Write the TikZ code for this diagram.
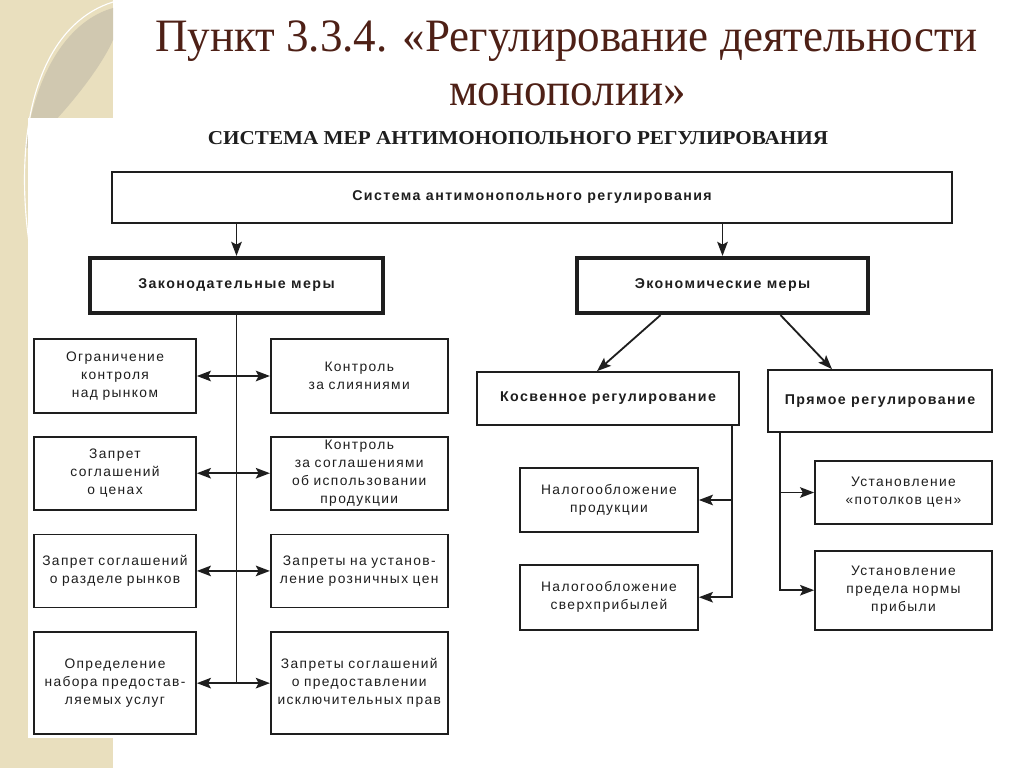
\documentclass[tikz,border=0pt]{standalone}
\usepackage{fontspec}
\usepackage{graphicx}
\setmainfont{Liberation Serif}
\newfontfamily\titlefont[FakeStretch=0.97]{Liberation Serif}
\newfontfamily\boxfont[LetterSpace=10]{Liberation Sans}
\usepackage{tikz}
\usetikzlibrary{arrows.meta,positioning}
\definecolor{titlebrown}{RGB}{78,32,22}
\definecolor{stripbeige}{RGB}{233,223,190}
\definecolor{leafgrey}{RGB}{208,200,176}
\definecolor{scanink}{RGB}{30,30,30}
\tikzstyle{arrow} = [line width=1.3pt,>={Stealth[length=10pt,width=7.5pt,inset=2pt]},->,color=scanink]
\tikzstyle{twoarrow} = [arrow,<->]
\tikzstyle{measurebox} = [rectangle, draw=scanink, line width=1.2pt, inner sep=2pt, align=center, text=scanink, font=\boxfont\fontsize{9.8}{12.8}\selectfont]
\tikzstyle{headbox} = [measurebox, line width=3pt, font=\boxfont\bfseries\fontsize{10.1}{12}\selectfont]
\tikzstyle{leftbox} = [measurebox, minimum width=4.05cm, text width=3.8cm, minimum height=1.825cm]
\tikzstyle{rightbox} = [measurebox, minimum width=4.425cm, text width=4.2cm, minimum height=1.825cm]
\tikzstyle{taxbox} = [measurebox, minimum width=4.45cm, text width=4.2cm]
\tikzstyle{titletext} = [inner sep=0pt, text=titlebrown, font=\titlefont\fontsize{33}{38}\selectfont]

\begin{document}
\begin{tikzpicture}[x=0.025cm, y=-0.025cm]
\useasboundingbox (0,0) rectangle (1024,768);
% slide background
\begin{scope}
\clip (0,0) rectangle (113,768);
\fill[stripbeige] (0,0) rectangle (113,768);
\fill[leafgrey] (113,8) .. controls (70,20) and (35,70) .. (25,150) .. controls (60,120) and (100,70) .. (113,40) -- cycle;
\draw[white, line width=0.8pt] (113,2) .. controls (55,20) and (20,90) .. (25,200) .. controls (28,260) and (40,300) .. (60,330);
\end{scope}
\fill[white] (28,118) rectangle (1005,738);

% titles
\node[titletext, anchor=base] (title) at (566.5,52) {Пункт 3.3.4. «Регулирование деятельности};
\node[titletext, anchor=base] (title2) at (567.5,106) {монополии»};
\node[anchor=base, inner sep=0pt, text=scanink] (caption) at (518,145) {\resizebox{15.5cm}{\height}{\bfseries\fontsize{14}{16}\selectfont СИСТЕМА МЕР АНТИМОНОПОЛЬНОГО РЕГУЛИРОВАНИЯ}};

% top levels
\node[headbox, line width=1.2pt, minimum width=21cm, minimum height=1.275cm] (sys) at (532,197.5) {Система антимонопольного регулирования};
\node[headbox, minimum width=7.325cm, minimum height=1.375cm] (leg) at (236.5,285.5) {Законодательные меры};
\node[headbox, minimum width=7.275cm, minimum height=1.375cm] (eco) at (722.5,285.5) {Экономические меры};

% legislative measures
\node[leftbox, minimum height=1.85cm] (l1) at (115,376) {Ограничение\\контроля\\над рынком};
\node[leftbox, below=0.55cm of l1] (l2) {Запрет\\соглашений\\о ценах};
\node[leftbox, below=0.575cm of l2] (l3) {Запрет соглашений\\о разделе рынков};
\node[leftbox, below=0.575cm of l3, minimum height=2.55cm] (l4) {Определение\\набора предостав-\\ляемых услуг};
\node[rightbox, minimum height=1.85cm, right=1.825cm of l1] (r1) {Контроль\\за слияниями};
\node[rightbox, right=1.825cm of l2] (r2) {Контроль\\за соглашениями\\об использовании\\продукции};
\node[rightbox, right=1.825cm of l3] (r3) {Запреты на установ-\\ление розничных цен};
\node[rightbox, minimum height=2.55cm, right=1.825cm of l4] (r4) {Запреты соглашений\\о предоставлении\\исключительных прав};

% economic measures
\node[headbox, line width=1.2pt, minimum width=6.55cm, minimum height=1.325cm] (ind) at (608,398.5) {Косвенное регулирование};
\node[headbox, line width=1.2pt, minimum width=5.6cm, minimum height=1.55cm] (dir) at (880,401) {Прямое регулирование};
\node[taxbox, minimum height=1.6cm] (t1) at (609,500) {Налогообложение\\продукции};
\node[taxbox, minimum height=1.625cm, below=0.775cm of t1] (t2) {Налогообложение\\сверхприбылей};
\node[rightbox, minimum height=1.575cm] (c1) at (903.5,492.5) {Установление\\«потолков цен»};
\node[rightbox, minimum height=1.975cm, below=0.625cm of c1] (c2) {Установление\\предела нормы\\прибыли};

% connectors
\draw[arrow] (leg.north |- sys.south) -- (leg.north);
\draw[arrow] (eco.north |- sys.south) -- (eco.north);
\draw[line width=1.3pt, scanink] (leg.south) -- (leg.south |- l4.east);
\foreach \i in {1,...,4}
  \draw[twoarrow] (l\i.east) -- (r\i.west);
\draw[arrow] ([xshift=-1.55cm]eco.south) -- ([xshift=-0.275cm]ind.north);
\draw[arrow] ([xshift=1.45cm]eco.south) -- ([xshift=-1.2cm]dir.north);
\foreach \t in {t1,t2}
  \draw[arrow] ([xshift=-0.2cm]ind.south east) |- (\t.east);
\foreach \c in {c1,c2}
  \draw[arrow] ([xshift=0.325cm]dir.south west) |- (\c.west);
\end{tikzpicture}
\end{document}
